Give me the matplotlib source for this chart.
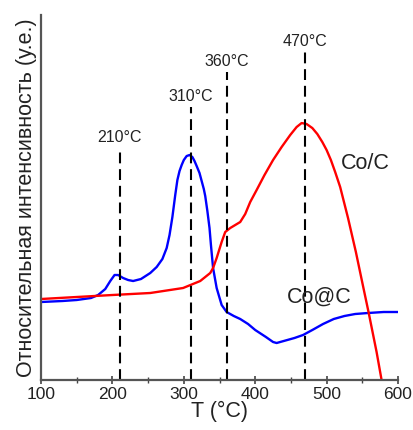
import matplotlib
matplotlib.use("Agg")
import matplotlib.pyplot as plt
from matplotlib.ticker import MultipleLocator, NullLocator

plt.rcParams['font.family'] = ['Liberation Sans', 'DejaVu Sans']

# Co@C (blue) - relative intensity
t_coc = [100, 130, 150, 170, 180, 190, 197, 203, 208, 215, 222, 229, 240, 253, 262,
         270, 276, 280, 284, 288, 291, 294, 297, 300, 304, 308, 312, 315, 318, 322,
         325, 328, 330, 333, 336, 338, 341, 346, 353, 360, 370, 379, 390, 400, 415,
         425, 430, 440, 455, 467, 480, 495, 510, 525, 540, 558, 580, 600]
i_coc = [78, 79, 80, 82, 85, 91, 99, 105, 105, 102, 100, 99, 101, 107, 113,
         121, 132, 145, 163, 185, 200, 209, 215, 220, 224, 225, 223, 219, 214, 207,
         199, 191, 184, 169, 152, 135, 112, 92, 75, 68, 64, 61, 56, 50, 43,
         38, 37, 39, 42, 45, 50, 56, 61, 64, 66, 67, 68, 68]

# Co/C (red)
t_cc = [100, 150, 200, 253, 299, 323, 337, 341, 346, 353, 358, 365, 372,
        379, 386, 393, 402, 413, 425, 437, 449, 458, 465, 472, 480, 487, 494, 500,
        506, 512, 519, 530, 541, 551, 559, 570, 577]
i_cc = [81, 83, 85, 87, 92, 99, 107, 112, 122, 138, 148, 152, 155,
        158, 166, 178, 190, 205, 220, 233, 245, 253, 257, 256, 252, 246, 238, 230,
        220, 208, 193, 162, 128, 94, 67, 28, 0]

peak_t = [210, 310, 360, 470]
peak_labels = ['210°C', '310°C', '360°C', '470°C']
peak_top = [232, 273, 308, 328]

fig = plt.figure(figsize=(4.13, 4.30), dpi=100)
ax = fig.add_axes([0.0993, 0.1163, 0.8644, 0.8487])

ax.plot(t_coc, i_coc, color='#0000ff', lw=1.7)
ax.plot(t_cc, i_cc, color='#ff0000', lw=1.7)

for x, lab, top in zip(peak_t, peak_labels, peak_top):
    ax.plot([x, x], [0, top], color='black', lw=1.5, ls=(0, (5.2, 2.8)))
    ax.text(x, top + 3, lab, ha='center', va='bottom', fontsize=11.5, color='#222222')

ax.text(554, 217, 'Co/C', ha='center', va='center', fontsize=15.5, color='#222222')
ax.text(490, 83, 'Co@C', ha='center', va='center', fontsize=15.5, color='#222222')

ax.set_xlim(100, 600)
ax.set_ylim(0, 365)
ax.xaxis.set_major_locator(MultipleLocator(100))
ax.xaxis.set_minor_locator(MultipleLocator(50))
ax.yaxis.set_major_locator(NullLocator())
ax.tick_params(axis='x', which='major', direction='inout', length=6, width=1.2,
               colors='#444444', labelsize=12.5, labelcolor='#222222', pad=2)
ax.tick_params(axis='x', which='minor', direction='inout', length=4, width=1.0, colors='#444444')

for s in ['top', 'right']:
    ax.spines[s].set_visible(False)
for s in ['left', 'bottom']:
    ax.spines[s].set_color('#555555')
    ax.spines[s].set_linewidth(1.6)

ax.set_xlabel('T (°C)', fontsize=15.5, color='#222222', labelpad=-1)
ax.set_ylabel('Относительная интенсивность (у.е.)', fontsize=15.5, color='#222222', labelpad=3)

fig.savefig('out.png', dpi=100)
